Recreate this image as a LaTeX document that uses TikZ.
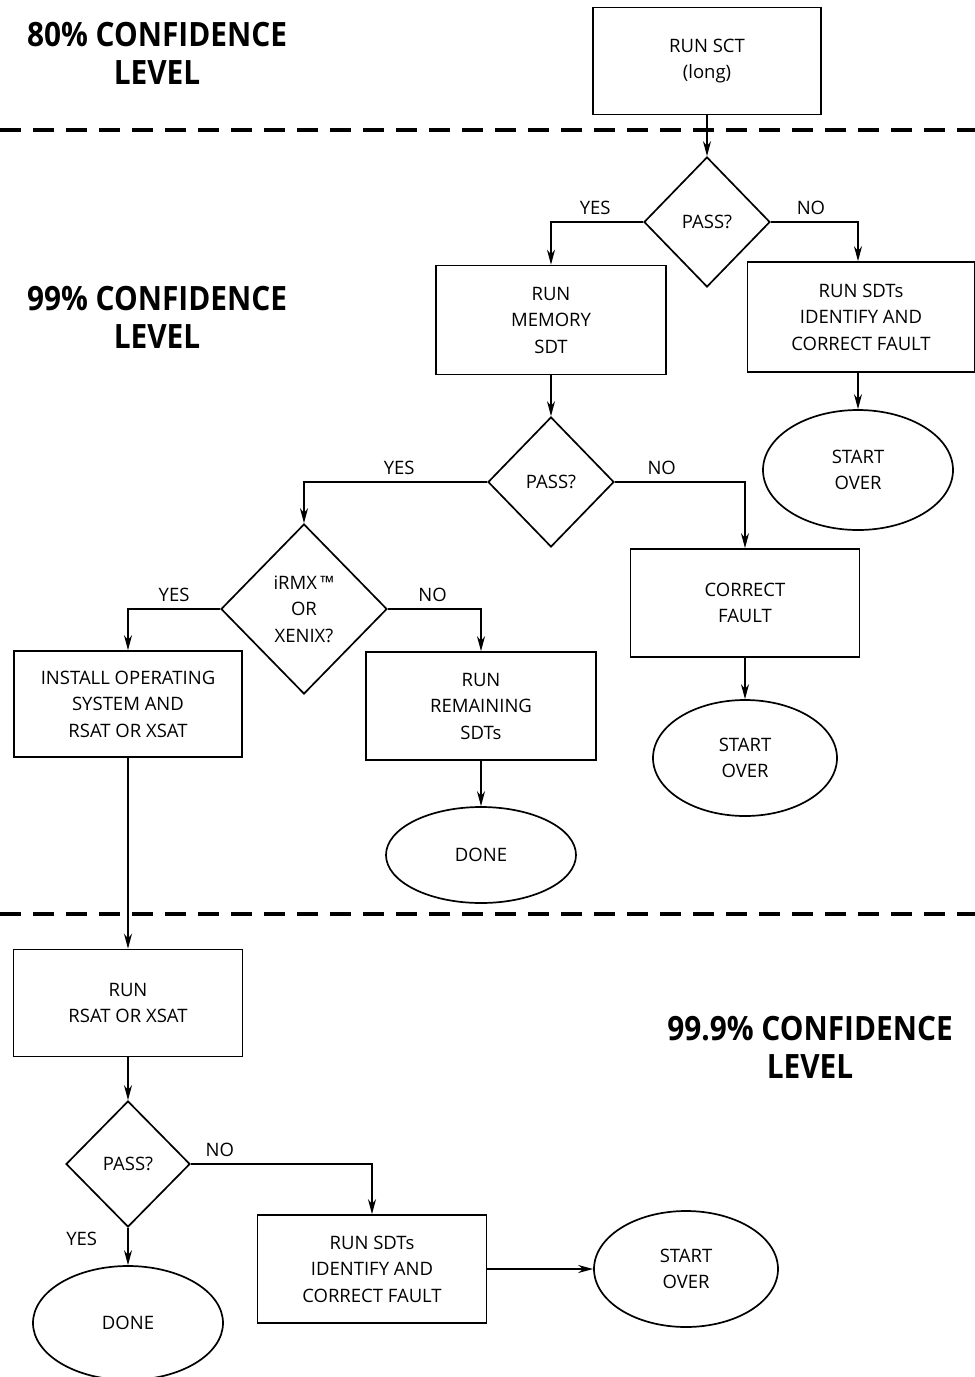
\documentclass[tikz,border=0pt]{standalone}
\usepackage{fontspec}
\setmainfont{Open Sans}
\usetikzlibrary{shapes.geometric,arrows.meta}
\begin{document}
\begin{tikzpicture}[x=1pt,y=-1pt,
  every node/.style={font=\fontsize{18.5}{26.5}\selectfont, align=center, inner sep=0pt},
  box/.style={draw, line width=1.7pt, rectangle},
  dia/.style={draw, line width=1.7pt, diamond},
  oval/.style={draw, line width=1.7pt, ellipse},
  lbl/.style={font=\fontsize{18.5}{22}\selectfont},
  head/.style={font=\fontsize{33.5}{38}\selectfont\bfseries},
  arr/.style={line width=1.7pt, -{Stealth[length=15pt,width=8pt]}},
  dashline/.style={line width=3.5pt, dash pattern=on 21pt off 12pt}]
\useasboundingbox (0,0) rectangle (975,1377);
\fill[white] (0,0) rectangle (975,1377);

% headings
\node[head] (h1) at (157,53) {\scalebox{0.89}[1]{80\% CONFIDENCE}\\\scalebox{0.89}[1]{LEVEL}};
\node[head] (h2) at (157,317) {\scalebox{0.89}[1]{99\% CONFIDENCE}\\\scalebox{0.89}[1]{LEVEL}};
\node[head] (h3) at (810,1047) {\scalebox{0.89}[1]{99.9\% CONFIDENCE}\\\scalebox{0.89}[1]{LEVEL}};

% dashed separators
\draw[dashline] (0,130) -- (975,130);
\draw[dashline] (0,914) -- (975,914);

% nodes
\node[box, minimum width=228, minimum height=107] (sct) at (707,61) {RUN SCT\\(long)};
\node[dia, minimum width=126, minimum height=130] (d1) at (707,222) {PASS?};
\node[box, minimum width=230, minimum height=109] (mem) at (551,320) {RUN\\MEMORY\\SDT};
\node[box, minimum width=227, minimum height=110] (sdt1) at (861,317) {RUN SDTs\\IDENTIFY AND\\CORRECT FAULT};
\node[oval, minimum width=190, minimum height=120] (so1) at (858,470) {START\\OVER};
\node[dia, minimum width=126, minimum height=130] (d2) at (551,482) {PASS?};
\node[box, minimum width=229, minimum height=108] (cf) at (745,603) {CORRECT\\FAULT};
\node[oval, minimum width=184, minimum height=116] (so2) at (745,758) {START\\OVER};
\node[dia, minimum width=166, minimum height=170] (d3) at (304,609) {iRMX\,™\\OR\\XENIX?};
\node[box, minimum width=228, minimum height=106] (inst) at (128,704) {INSTALL OPERATING\\SYSTEM AND\\RSAT OR XSAT};
\node[box, minimum width=230, minimum height=108] (rem) at (481,706) {RUN\\REMAINING\\SDTs};
\node[oval, minimum width=190, minimum height=96] (done1) at (481,855) {DONE};
\node[box, minimum width=229, minimum height=107] (rsat) at (128,1003) {RUN\\RSAT OR XSAT};
\node[dia, minimum width=124, minimum height=126] (d4) at (128,1164) {PASS?};
\node[box, minimum width=229, minimum height=108] (sdt2) at (372,1269) {RUN SDTs\\IDENTIFY AND\\CORRECT FAULT};
\node[oval, minimum width=190, minimum height=114] (done2) at (128,1323) {DONE};
\node[oval, minimum width=184, minimum height=116] (so3) at (686,1269) {START\\OVER};

% connectors
\draw[arr] (sct) -- (d1);
\draw[arr] (d1.west) -| node[lbl, pos=0.26, above=6pt] (y1) {YES} (mem.north);
\draw[arr] (d1.east) -| node[lbl, pos=0.23, above=6pt] (n1) {NO} (sdt1.north -| so1.north);
\draw[arr] (sdt1.south -| so1.north) -- (so1.north);
\draw[arr] (mem) -- (d2);
\draw[arr] (d2.west) -| node[lbl, pos=0.24, above=6pt] (y2) {YES} (d3.north);
\draw[arr] (d2.east) -| node[lbl, pos=0.18, above=6pt] (n2) {NO} (cf.north);
\draw[arr] (cf) -- (so2);
\draw[arr] (d3.west) -| node[lbl, pos=0.25, above=6pt] (y3) {YES} (inst.north);
\draw[arr] (d3.east) -| node[lbl, pos=0.24, above=6pt] (n3) {NO} (rem.north);
\draw[arr] (rem) -- (done1);
\draw[arr] (inst.south) -- (rsat.north);
\draw[arr] (rsat) -- (d4);
\draw[arr] (d4.east) -| node[lbl, pos=0.08, above=6pt] (n4) {NO} (sdt2.north);
\draw[arr] (d4) -- node[lbl, left=30pt, pos=0.3] (y4) {YES} (done2);
\draw[arr] (sdt2) -- (so3);
\end{tikzpicture}
\end{document}
